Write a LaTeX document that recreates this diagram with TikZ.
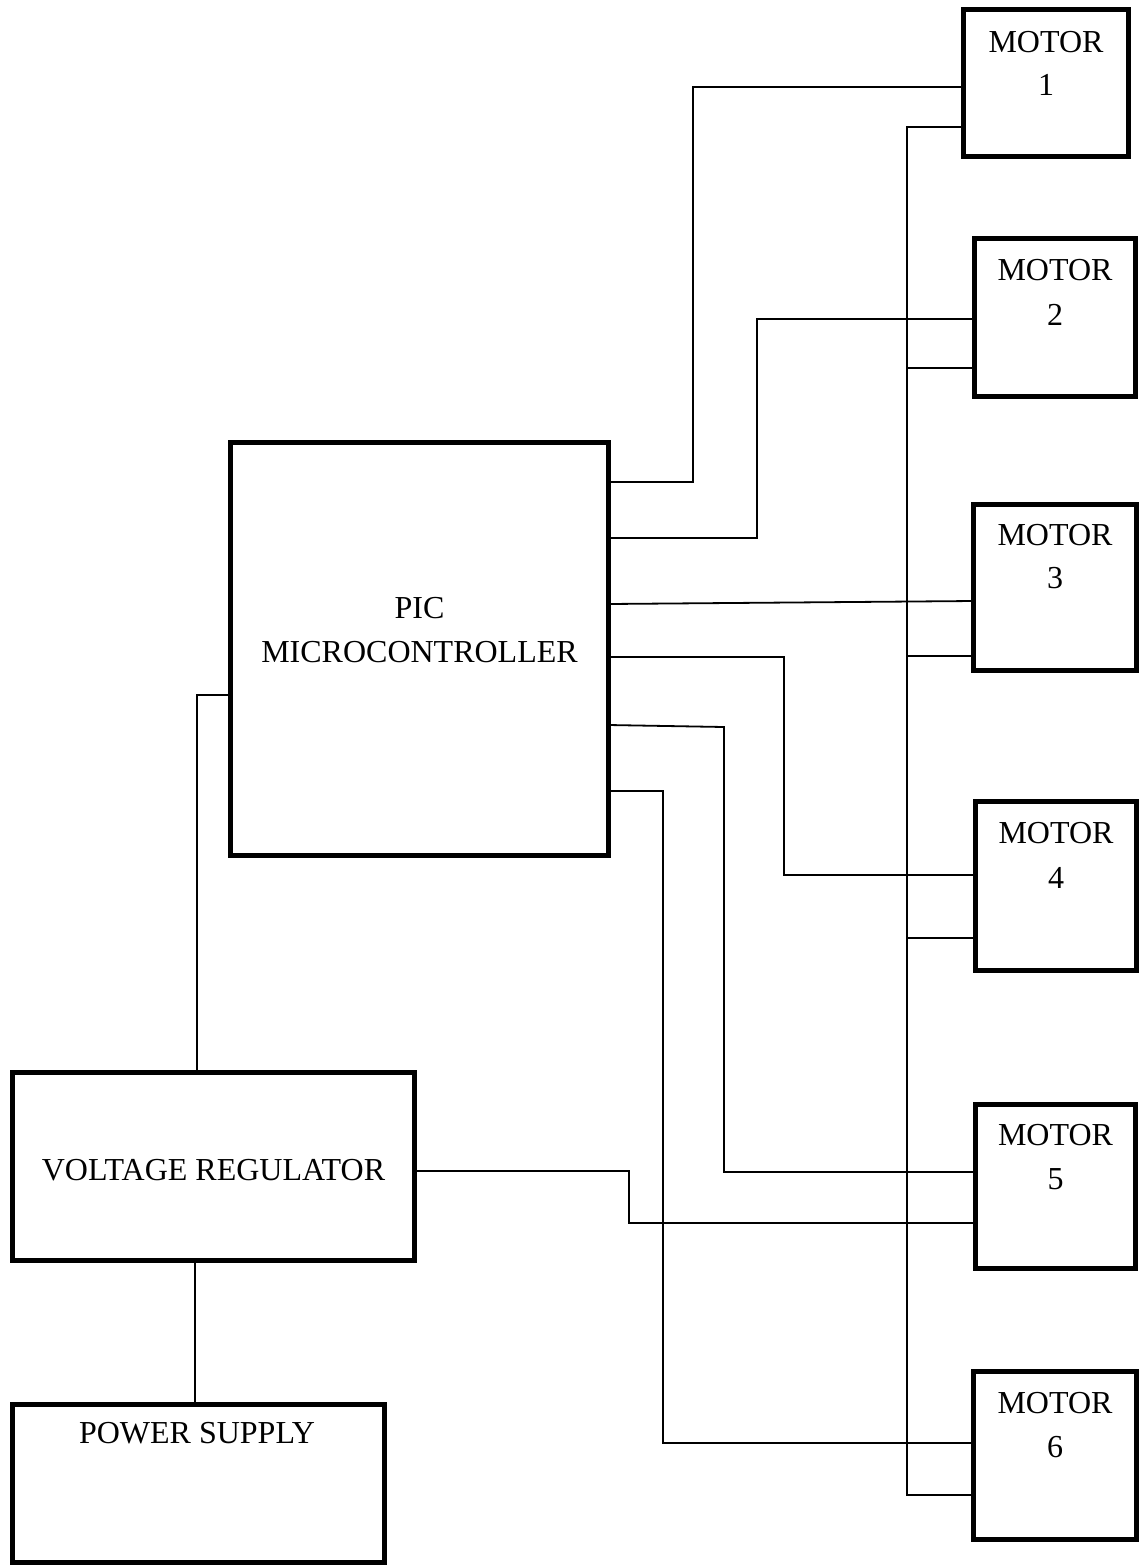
\documentclass[tikz,border=0pt]{standalone}
\usepackage{fontspec}
\setmainfont{Liberation Serif}
\begin{document}
\begin{tikzpicture}[x=1pt,y=-1pt,
  box/.style={draw=black,line width=5pt,inner sep=0pt,outer sep=0pt,rectangle},
  wire/.style={draw=black,line width=1.8pt},
  lbl/.style={anchor=base,inner sep=0pt,font=\fontsize{32}{40}\selectfont}]
\useasboundingbox (0,0) rectangle (1139,1566);
% boxes
\node[box,minimum width=165pt,minimum height=147pt] (m1) at (1046,83) {};
\node[box,minimum width=161pt,minimum height=158pt] (m2) at (1055,317.5) {};
\node[box,minimum width=163pt,minimum height=166pt] (m3) at (1055,587.5) {};
\node[box,minimum width=161pt,minimum height=169pt] (m4) at (1056,886) {};
\node[box,minimum width=160pt,minimum height=164pt] (m5) at (1055.5,1186.5) {};
\node[box,minimum width=163pt,minimum height=168pt] (m6) at (1055,1455.5) {};
\node[box,minimum width=378pt,minimum height=413pt] (pic) at (419.5,649) {};
\node[box,minimum width=402pt,minimum height=188pt] (vr) at (213.5,1166.5) {};
\node[box,minimum width=372pt,minimum height=158pt] (ps) at (198.5,1483.5) {};
% labels
\node[lbl] (m1a) at (1046,52.7) {MOTOR};
\node[lbl] (m1b) at (1046,95.7) {1};
\node[lbl] (m2a) at (1055,280.7) {MOTOR};
\node[lbl] (m2b) at (1055,325.7) {2};
\node[lbl] (m3a) at (1055,545.7) {MOTOR};
\node[lbl] (m3b) at (1055,588.7) {3};
\node[lbl] (m4a) at (1056,843.7) {MOTOR};
\node[lbl] (m4b) at (1056,888.7) {4};
\node[lbl] (m5a) at (1055.5,1145.7) {MOTOR};
\node[lbl] (m5b) at (1055.5,1189.7) {5};
\node[lbl] (m6a) at (1055,1413.7) {MOTOR};
\node[lbl] (m6b) at (1055,1457.7) {6};
\node[lbl] (pica) at (419.5,618.7) {PIC};
\node[lbl] (picb) at (419.5,662.7) {MICROCONTROLLER};
\node[lbl] (vrt) at (213.5,1180.7) {VOLTAGE REGULATOR};
\node[lbl] (pst) at (197,1443.7) {POWER SUPPLY};
% wire coordinates
\coordinate (w1a) at (693,482);  \coordinate (w1b) at (693,87);
\coordinate (w2a) at (757,538);  \coordinate (w2b) at (757,319);
\coordinate (w3a) at (700,604);  \coordinate (w3b) at (900,601);
\coordinate (w4a) at (784,657);  \coordinate (w4b) at (784,875);
\coordinate (w5s) at (611,725);  \coordinate (w5a) at (724,727); \coordinate (w5b) at (724,1172);
\coordinate (w6a) at (663,791);  \coordinate (w6b) at (663,1443);
\coordinate (b0) at (907,127);   \coordinate (b6) at (907,1495);
\coordinate (b2) at (907,368);   \coordinate (b3) at (907,656);   \coordinate (b4) at (907,938);
\coordinate (v1) at (629,1171);  \coordinate (v2) at (629,1223);
\coordinate (p1) at (197,695);   \coordinate (q1) at (195,1300);
% wires
\draw[wire] (pic.east |- w1a) -- (w1a) -- (w1b) -- (m1.west |- w1b);
\draw[wire] (pic.east |- w2a) -- (w2a) -- (w2b) -- (m2.west |- w2b);
\draw[wire] (pic.east |- w3a) -- (m3.west |- w3b);
\draw[wire] (pic.east |- w4a) -- (w4a) -- (w4b) -- (m4.west |- w4b);
\draw[wire] (pic.east |- w5s) -- (w5a) -- (w5b) -- (m5.west |- w5b);
\draw[wire] (pic.east |- w6a) -- (w6a) -- (w6b) -- (m6.west |- w6b);
\draw[wire] (m1.west |- b0) -- (b0) -- (b6) -- (m6.west |- b6);
\draw[wire] (b2) -- (m2.west |- b2);
\draw[wire] (b3) -- (m3.west |- b3);
\draw[wire] (b4) -- (m4.west |- b4);
\draw[wire] (vr.east |- v1) -- (v1) -- (v2) -- (m5.west |- v2);
\draw[wire] (pic.west |- p1) -- (p1) -- (vr.north -| p1);
\draw[wire] (vr.south -| q1) -- (ps.north -| q1);
\end{tikzpicture}
\end{document}
